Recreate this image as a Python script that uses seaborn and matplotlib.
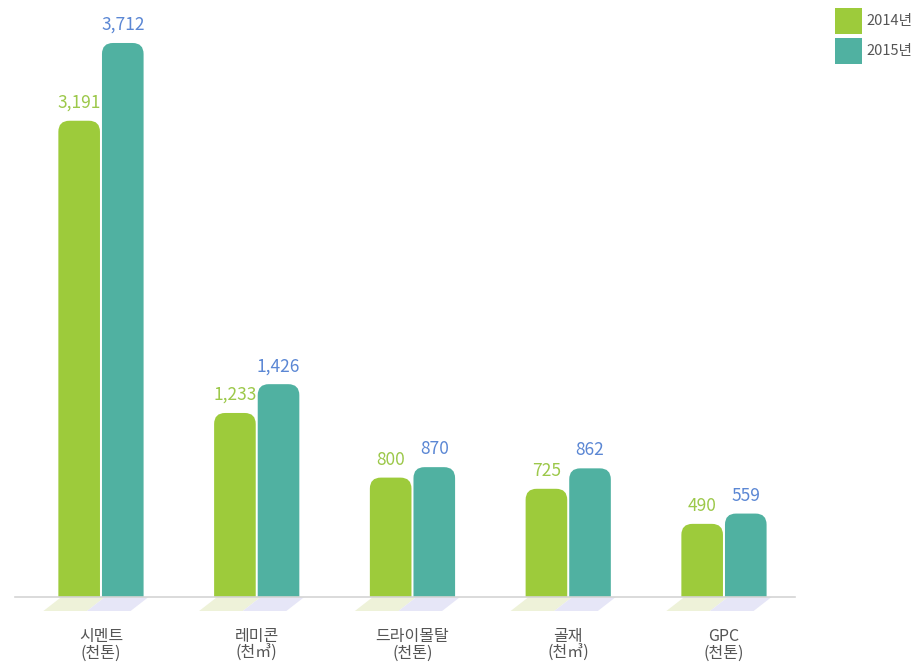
import matplotlib
matplotlib.use("Agg")
import matplotlib.pyplot as plt
import seaborn as sns
import pandas as pd
from matplotlib.patches import FancyBboxPatch, Polygon, Rectangle

categories = ["시멘트\n(천톤)", "레미콘\n(천㎥)", "드라이몰탈\n(천톤)", "골재\n(천㎥)", "GPC\n(천톤)"]
series_names = ["2014년", "2015년"]
values_2014 = [3191, 1233, 800, 725, 490]
values_2015 = [3712, 1426, 870, 862, 559]

bar_colors = ["#9dcb3b", "#50b1a1"]
label_colors = ["#9cc84a", "#5b87d4"]

sns.set_theme(style="white")
plt.rcParams["font.family"] = ["Noto Sans CJK KR", "DejaVu Sans"]

df = pd.DataFrame({
    "cat": categories * 2,
    "year": [series_names[0]] * 5 + [series_names[1]] * 5,
    "value": values_2014 + values_2015,
})

fig = plt.figure(figsize=(9.16, 6.65), dpi=100)
ax = fig.add_axes([15 / 916, 1 - 597 / 665, (795 - 15) / 916, 597 / 665])

sns.barplot(data=df, x="cat", y="value", hue="year", palette=bar_colors,
            width=0.56, ax=ax, legend=False, saturation=1)

ax.set_xlim(-0.552, 4.456)
ax.set_ylim(0, 4000)

# data units per pixel
xu = (4.456 + 0.552) / (795 - 15)
yu = 4000 / 597
aspect = yu / xu

patches = list(ax.patches)
for i, p in enumerate(patches):
    x0, y0 = p.get_x(), p.get_y()
    w, h = p.get_width(), p.get_height()
    p.set_visible(False)
    s = 0 if i < 5 else 1
    gap = 1.0 * xu
    r = 11 * xu
    rb = FancyBboxPatch((x0 + gap, -25 * yu), w - 2 * gap, h + 25 * yu,
                        boxstyle=f"round,pad=0,rounding_size={r}",
                        mutation_aspect=aspect,
                        facecolor=bar_colors[s], edgecolor="none", zorder=3)
    ax.add_patch(rb)
    # reflection parallelogram under baseline
    refl_col = "#eef2d9" if s == 0 else "#e6e6f7"
    poly = Polygon([(x0 + 4 * xu, 0), (x0 + w + 4 * xu, 0), (x0 + w - 14 * xu, -14 * yu), (x0 - 14 * xu, -14 * yu)],
                   closed=True, facecolor=refl_col, edgecolor="none", clip_on=False, zorder=1)
    ax.add_patch(poly)
    ax.text(x0 + w / 2, h + 9 * yu, f"{h:,.0f}", ha="center", va="bottom",
            fontsize=12.5, color=label_colors[s], zorder=4)

for side in ["top", "right", "left"]:
    ax.spines[side].set_visible(False)
ax.spines["bottom"].set_color("#d4d4d4")
ax.spines["bottom"].set_linewidth(1.2)
ax.spines["bottom"].set_zorder(5)
ax.set_yticks([])
ax.set_xlabel("")
ax.set_ylabel("")
ax.tick_params(axis="x", length=0, pad=22, labelsize=11.5, labelcolor="#555555")
for t in ax.get_xticklabels():
    t.set_linespacing(1.05)

# legend
for k, name in enumerate(series_names):
    ytop = 8 + k * 30
    fig.patches.append(Rectangle((835 / 916, 1 - (ytop + 26) / 665), 27 / 916, 26 / 665,
                                 transform=fig.transFigure, facecolor=bar_colors[k],
                                 edgecolor="none"))
    fig.text(866 / 916, 1 - (ytop + 13) / 665, name, ha="left", va="center",
             fontsize=10.5, color="#555555")

fig.savefig("out.png", dpi=100)
